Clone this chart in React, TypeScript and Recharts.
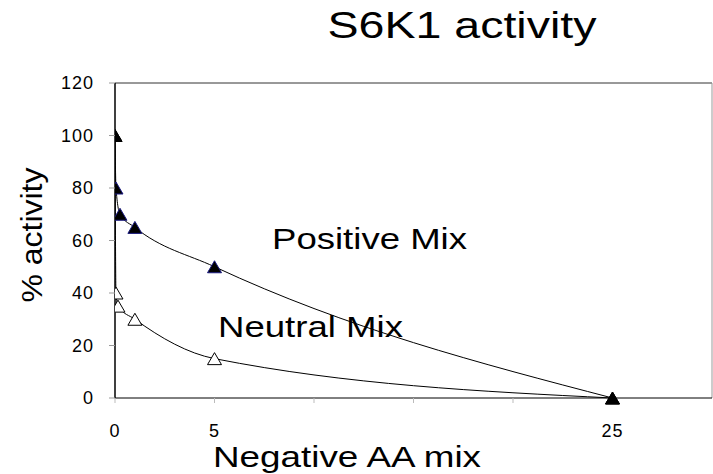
import React from 'react';
import { LineChart, Line, XAxis, YAxis, ReferenceLine } from 'recharts';

// x = amount of negative AA mix, y = % activity
const positiveMix = [
  { x: 0, y: 100 },
  { x: 0.05, y: 80 },
  { x: 0.25, y: 70 },
  { x: 1, y: 65 },
  { x: 5, y: 50 },
  { x: 25, y: 0 },
];

const neutralMix = [
  { x: 0, y: 100 },
  { x: 0.05, y: 40 },
  { x: 0.15, y: 35 },
  { x: 1, y: 30 },
  { x: 5, y: 15 },
  { x: 25, y: 0 },
];

const xTicks = [0, 5, 10, 15, 20, 25];
const xTickLabels = [0, 5, 25];
const yTicks = [0, 20, 40, 60, 80, 100, 120];

const FONT = '"Liberation Sans", Arial, sans-serif';

const makeTriangle = (fill: string, stroke: string, total: number) => (props: any) => {
  const { cx, cy, index } = props;
  if (cx == null || cy == null) return <g key={`t-${index}`} />;
  // shared end points are drawn solid black
  const isEnd = index === 0 || index === total - 1;
  const f = isEnd ? '#000' : fill;
  const s = isEnd ? '#000' : stroke;
  const pts = `${cx},${cy - 6} ${cx + 7},${cy + 6} ${cx - 7},${cy + 6}`;
  return <polygon key={`t-${index}`} points={pts} fill={f} stroke={s} strokeWidth={1} />;
};

const XTick = (props: any) => {
  const { x, y, payload } = props;
  if (!xTickLabels.includes(payload.value)) return <g />;
  return (
    <text x={x} y={y + 13} textAnchor="middle" fontSize={18} letterSpacing={1} fontFamily={FONT} fill="#000">
      {payload.value}
    </text>
  );
};

const YTick = (props: any) => {
  const { x, y, payload } = props;
  return (
    <text x={x} y={y + 6} textAnchor="end" fontSize={18} letterSpacing={1} fontFamily={FONT} fill="#000">
      {payload.value}
    </text>
  );
};

const App = () => {
  return (
    <div style={{ position: 'absolute', left: 0, top: 0, width: 713, height: 474, background: '#fff' }}>
      <LineChart width={713} height={474} margin={{ top: 83, right: 1, left: 55, bottom: 36 }}>
        <XAxis
          type="number"
          dataKey="x"
          domain={[0, 30]}
          ticks={xTicks}
          height={40}
          tickSize={5}
          tickMargin={21}
          axisLine={{ stroke: '#000', strokeWidth: 1 }}
          tickLine={{ stroke: '#bbb' }}
          tick={<XTick />}
          allowDataOverflow
        />
        <YAxis
          type="number"
          dataKey="y"
          domain={[0, 120]}
          ticks={yTicks}
          width={60}
          tickSize={6}
          tickMargin={15}
          axisLine={{ stroke: '#000', strokeWidth: 1.5 }}
          tickLine={{ stroke: '#999' }}
          tick={<YTick />}
        />
        <ReferenceLine y={120} stroke="#333" strokeWidth={1} />
        <ReferenceLine x={30} stroke="#999" strokeWidth={1} />
        <Line
          data={neutralMix}
          dataKey="y"
          type="monotone"
          stroke="#000"
          strokeWidth={1}
          dot={makeTriangle('#fff', '#000', neutralMix.length)}
          activeDot={false}
          isAnimationActive={false}
        />
        <Line
          data={positiveMix}
          dataKey="y"
          type="monotone"
          stroke="#000"
          strokeWidth={1}
          dot={makeTriangle('#000', '#1a1a80', positiveMix.length)}
          activeDot={false}
          isAnimationActive={false}
        />
        <text x={462} y={38} textAnchor="middle" fontSize={36} fontFamily={FONT} textLength={269} lengthAdjust="spacingAndGlyphs" fill="#000">
          S6K1 activity
        </text>
        <text x={272} y={249} fontSize={30} fontFamily={FONT} textLength={195} lengthAdjust="spacingAndGlyphs" fill="#000">
          Positive Mix
        </text>
        <text x={218} y={337} fontSize={30} fontFamily={FONT} textLength={185} lengthAdjust="spacingAndGlyphs" fill="#000">
          Neutral Mix
        </text>
        <text x={213} y={467} fontSize={29} fontFamily={FONT} textLength={268} lengthAdjust="spacingAndGlyphs" fill="#000">
          Negative AA mix
        </text>
        <text
          x={0}
          y={0}
          transform="translate(42,235) rotate(-90)"
          textAnchor="middle"
          fontSize={29}
          fontFamily={FONT}
          textLength={135}
          lengthAdjust="spacingAndGlyphs"
          fill="#000"
        >
          % activity
        </text>
      </LineChart>
    </div>
  );
};

export default App;
